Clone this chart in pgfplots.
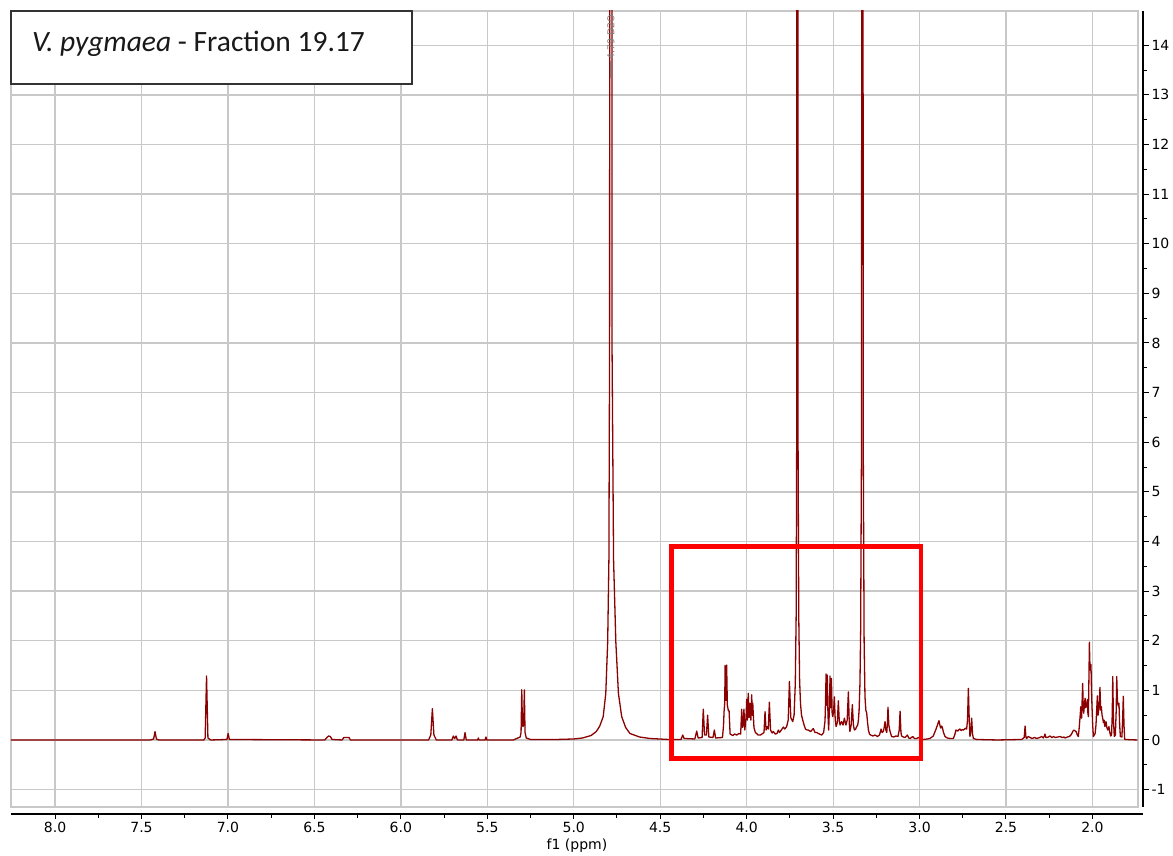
\documentclass[border=0pt]{standalone}
\usepackage{pgfplots}
\pgfplotsset{compat=1.18}
\usepackage{pgfplotstable}
\usepackage{fontspec}
\setmainfont{DejaVu Sans}
\newfontfamily\titlefont{Carlito}
\definecolor{spec}{RGB}{139,0,0}
\definecolor{gridc}{RGB}{200,200,200}
\pgfplotstableread{
ppm int
8.26 0.00
7.45 0.00
7.43 0.02
7.422 0.17
7.414 0.02
7.40 0.00
7.14 0.00
7.132 0.04
7.124 1.29
7.116 0.04
7.10 0.00
7.006 0.01
6.999 0.13
6.992 0.01
6.44 0.00
6.428 0.05
6.418 0.08
6.408 0.07
6.398 0.01
6.34 0.00
6.330 0.05
6.300 0.05
6.292 0.00
5.84 0.00
5.827 0.10
5.818 0.63
5.809 0.10
5.795 0.00
5.705 0.00
5.697 0.08
5.689 0.03
5.681 0.08
5.673 0.00
5.636 0.00
5.629 0.15
5.622 0.00
5.556 0.00
5.552 0.04
5.548 0.00
5.513 0.00
5.508 0.06
5.503 0.00
5.35 0.00
5.33 0.03
5.31 0.06
5.305 0.15
5.301 1.01
5.297 0.30
5.294 0.27
5.290 0.30
5.286 1.01
5.282 0.15
5.275 0.04
5.25 0.01
5.10 0.01
5.00 0.02
4.95 0.04
4.90 0.09
4.87 0.17
4.85 0.28
4.83 0.47
4.815 0.94
4.804 1.98
4.797 3.63
4.793 8
4.791 30
4.781 30
4.779 8
4.770 3.63
4.757 1.98
4.742 0.94
4.723 0.47
4.70 0.25
4.675 0.13
4.62 0.06
4.56 0.03
4.45 0.01
4.38 0.01
4.370 0.10
4.362 0.03
4.30 0.02
4.289 0.18
4.281 0.04
4.258 0.05
4.251 0.62
4.244 0.10
4.233 0.10
4.226 0.50
4.219 0.06
4.195 0.05
4.187 0.20
4.180 0.04
4.140 0.05
4.134 0.30
4.131 0.57
4.127 0.75
4.125 1.50
4.121 0.80
4.118 0.80
4.116 1.51
4.112 0.70
4.106 0.59
4.102 0.59
4.096 0.12
4.08 0.09
4.070 0.12
4.058 0.10
4.045 0.13
4.035 0.12
4.029 0.62
4.024 0.25
4.020 0.30
4.016 0.62
4.011 0.20
4.004 0.45
4.000 0.82
3.996 0.40
3.991 0.94
3.986 0.45
3.981 0.74
3.976 0.40
3.971 0.91
3.968 0.50
3.965 0.74
3.958 0.25
3.950 0.15
3.942 0.13
3.935 0.10
3.920 0.10
3.900 0.15
3.894 0.57
3.888 0.20
3.881 0.27
3.875 0.22
3.869 0.76
3.862 0.20
3.853 0.14
3.846 0.17
3.835 0.12
3.825 0.13
3.817 0.20
3.810 0.15
3.800 0.20
3.788 0.26
3.780 0.22
3.769 0.27
3.760 0.40
3.753 1.18
3.745 0.45
3.734 0.37
3.726 0.50
3.719 1.14
3.714 2.5
3.711 6
3.709 30
3.705 30
3.703 6
3.699 2.5
3.694 1.2
3.689 0.74
3.683 0.50
3.676 0.40
3.668 0.30
3.660 0.22
3.650 0.20
3.644 0.20
3.630 0.17
3.615 0.23
3.605 0.15
3.595 0.15
3.580 0.12
3.566 0.10
3.555 0.15
3.547 0.39
3.544 0.80
3.541 1.33
3.538 0.70
3.534 1.31
3.530 0.50
3.526 0.20
3.522 0.60
3.518 1.29
3.514 0.65
3.510 1.24
3.506 0.55
3.503 0.47
3.498 0.55
3.493 0.87
3.488 0.40
3.483 0.27
3.476 0.35
3.470 0.79
3.465 0.40
3.460 0.30
3.455 0.35
3.451 0.37
3.443 0.30
3.435 0.44
3.430 0.35
3.426 0.30
3.419 0.40
3.412 0.97
3.407 0.35
3.403 0.17
3.396 0.30
3.389 0.71
3.383 0.30
3.377 0.20
3.370 0.22
3.364 0.27
3.358 0.30
3.354 0.40
3.350 0.60
3.345 1.14
3.341 2.2
3.336 6
3.333 30
3.329 30
3.326 6
3.321 2.0
3.316 0.87
3.311 0.60
3.306 0.54
3.301 0.35
3.296 0.20
3.290 0.12
3.283 0.10
3.270 0.08
3.258 0.10
3.244 0.07
3.232 0.10
3.223 0.22
3.217 0.15
3.210 0.17
3.205 0.25
3.200 0.37
3.195 0.20
3.190 0.15
3.186 0.35
3.183 0.66
3.178 0.30
3.171 0.17
3.162 0.07
3.150 0.06
3.137 0.08
3.125 0.07
3.118 0.20
3.113 0.58
3.108 0.15
3.104 0.08
3.094 0.06
3.084 0.05
3.071 0.10
3.063 0.04
3.055 0.03
3.040 0.07
3.030 0.03
3.017 0.03
3.007 0.05
2.995 0.02
2.978 0.01
2.955 0.02
2.94 0.03
2.921 0.08
2.905 0.22
2.895 0.32
2.888 0.39
2.883 0.30
2.878 0.24
2.873 0.28
2.869 0.26
2.862 0.15
2.853 0.07
2.840 0.04
2.824 0.03
2.805 0.03
2.797 0.10
2.790 0.20
2.780 0.18
2.772 0.21
2.766 0.22
2.760 0.19
2.752 0.21
2.747 0.20
2.740 0.22
2.734 0.24
2.728 0.22
2.723 0.40
2.718 1.04
2.713 0.40
2.709 0.07
2.704 0.15
2.699 0.44
2.694 0.12
2.689 0.03
2.670 0.01
2.55 0.00
2.41 0.01
2.395 0.05
2.390 0.28
2.385 0.05
2.381 0.03
2.372 0.07
2.350 0.03
2.335 0.05
2.323 0.03
2.305 0.05
2.294 0.07
2.285 0.04
2.278 0.08
2.275 0.12
2.270 0.05
2.265 0.05
2.255 0.06
2.246 0.08
2.235 0.05
2.225 0.07
2.217 0.05
2.200 0.06
2.188 0.07
2.175 0.05
2.165 0.06
2.159 0.04
2.145 0.06
2.134 0.07
2.125 0.10
2.120 0.13
2.113 0.18
2.107 0.20
2.100 0.18
2.095 0.17
2.088 0.10
2.082 0.07
2.077 0.25
2.072 0.47
2.068 0.67
2.063 0.44
2.060 0.80
2.057 1.14
2.054 0.70
2.051 0.54
2.047 0.70
2.043 0.84
2.040 0.65
2.037 0.67
2.033 0.75
2.030 0.81
2.027 0.55
2.024 0.47
2.021 1.20
2.018 1.97
2.016 1.60
2.014 1.52
2.011 1.40
2.009 1.52
2.006 1.00
2.003 0.67
1.999 0.30
1.995 0.07
1.990 0.10
1.985 0.13
1.980 0.30
1.976 0.60
1.972 0.89
1.968 0.50
1.964 0.61
1.960 0.80
1.957 1.06
1.953 0.60
1.949 0.67
1.945 0.50
1.941 0.44
1.937 0.35
1.933 0.40
1.930 0.30
1.928 0.27
1.925 0.33
1.922 0.37
1.917 0.25
1.912 0.20
1.908 0.24
1.905 0.27
1.900 0.15
1.895 0.08
1.890 0.10
1.886 0.50
1.883 1.28
1.879 0.40
1.874 0.07
1.868 0.10
1.863 0.60
1.860 1.28
1.856 0.80
1.853 0.71
1.850 0.68
1.847 0.74
1.843 0.30
1.839 0.07
1.830 0.06
1.826 0.40
1.822 0.88
1.818 0.30
1.814 0.01
1.74 0.00
}\spectrum
\begin{document}
\begin{tikzpicture}
% plot area with grid
\begin{axis}[name=main, at={(0,0)}, anchor=south west, scale only axis,
  width=1127pt, height=796pt,
  x dir=reverse, xmin=1.737, xmax=8.255, ymin=-1.35, ymax=14.69,
  xtick={2,2.5,3,3.5,4,4.5,5,5.5,6,6.5,7,7.5,8},
  ytick={-1,0,1,2,3,4,5,6,7,8,9,10,11,12,13,14},
  xticklabels={}, yticklabels={},
  grid=major, major grid style={gridc, line width=1.3pt},
  axis line style={gridc, line width=1.3pt},
  major tick length=0pt, tick style={draw=none},
  clip=true]
\addplot[spec, line width=1.3pt, line join=round] table[x=ppm,y=int]{\spectrum};
\draw[red, line width=4.5pt] (axis cs:4.436,3.90) rectangle (axis cs:2.993,-0.37);
\draw[gray, line width=0.8pt] (axis cs:4.786,13.68) -- (axis cs:4.786,13.33);
\node[gray, rotate=90, anchor=west, inner sep=1pt, font=\fontsize{9.5}{9.5}\selectfont] at (axis cs:4.786,13.68) {4.79 D2O};
\end{axis}
% x axis
\begin{axis}[at={(0,-7pt)}, anchor=south west, scale only axis,
  width=1132pt, height=796pt,
  x dir=reverse, xmin=1.708, xmax=8.255, ymin=0, ymax=1,
  axis x line*=bottom, axis y line=none,
  axis line style={black, line width=1.2pt},
  xtick={2,2.5,3,3.5,4,4.5,5,5.5,6,6.5,7,7.5,8},
  minor x tick num=1,
  tick align=outside, major tick length=5pt, minor tick length=4pt,
  tick style={black, line width=1pt},
  xticklabel style={font=\fontsize{14}{14}\selectfont, text=black},
  x tick label style={/pgf/number format/.cd, fixed, fixed zerofill, precision=1, assume math mode=true},
  xlabel={f1 (ppm)},
  xlabel style={font=\fontsize{14}{14}\selectfont, text=black, yshift=1pt}]
\addplot[draw=none] coordinates {(3,0.5)};
\end{axis}
% y axis
\begin{axis}[at={(5pt,0)}, anchor=south west, scale only axis,
  width=1127pt, height=796pt,
  xmin=0, xmax=1, ymin=-1.35, ymax=14.69,
  axis y line*=right, axis x line=none,
  axis line style={black, line width=1.2pt},
  ytick={-1,0,1,2,3,4,5,6,7,8,9,10,11,12,13,14},
  minor y tick num=1,
  tick align=outside, major tick length=6pt, minor tick length=4pt,
  tick style={black, line width=1pt},
  yticklabel style={font=\fontsize{14}{14}\selectfont, text=black, xshift=-1pt, /pgf/number format/assume math mode=true}]
\addplot[draw=none] coordinates {(0.5,0)};
\end{axis}
% title box
\draw[draw=black!80, line width=1.3pt, fill=white] (main.north west) rectangle ([shift={(401pt,-73pt)}]main.north west);
\node[anchor=base west, inner sep=0pt, font=\titlefont\fontsize{29.5}{29.5}\selectfont, text=black!90] at ([shift={(21pt,-41pt)}]main.north west) {\textit{V. pygmaea} - Fraction 19.17};
\pgfresetboundingbox
\path ([shift={(-11pt,-49pt)}]main.south west) rectangle ([shift={(35pt,11pt)}]main.north east);
\end{tikzpicture}
\end{document}
